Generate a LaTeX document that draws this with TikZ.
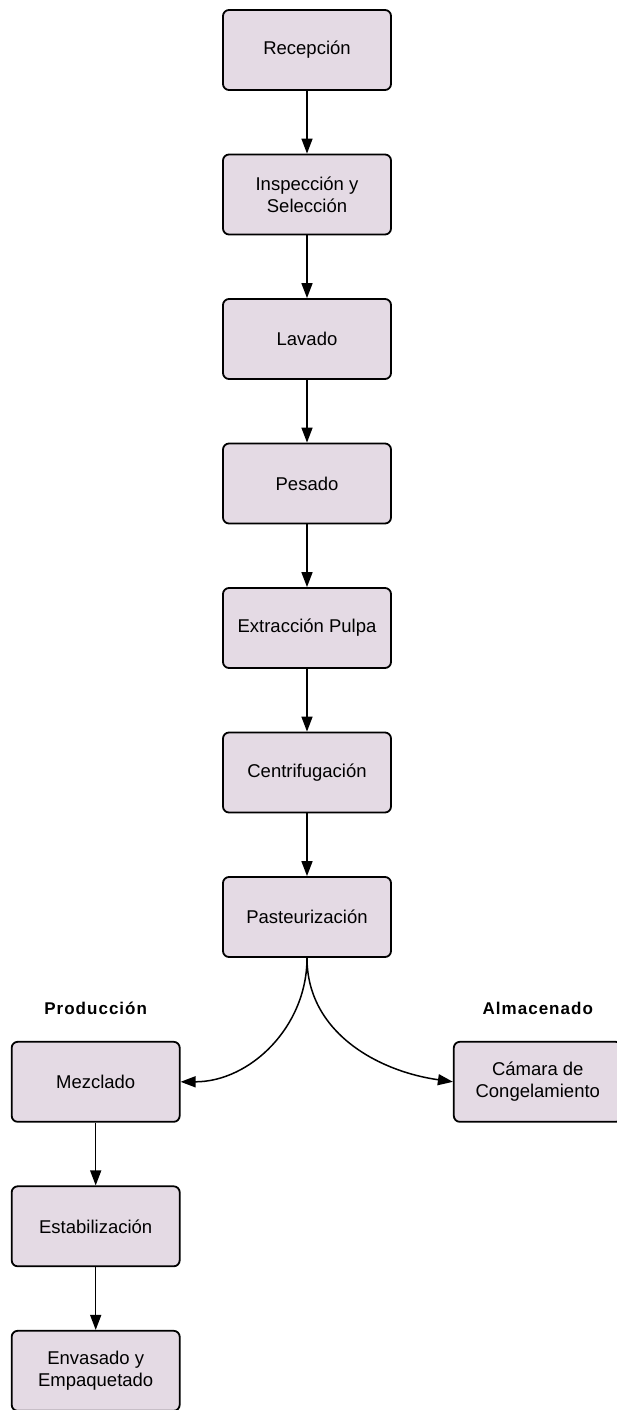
\documentclass[tikz,border=0pt]{standalone}
\usepackage{fontspec}
\setmainfont{Liberation Sans}
\newfontfamily\branchfont{Liberation Sans}[LetterSpace=6]
\usetikzlibrary{positioning, arrows.meta}
\definecolor{boxfill}{RGB}{228,218,228}

\begin{document}
\begin{tikzpicture}[
		x=1pt, y=1pt,
		node distance=62.7pt,
		box/.style={draw, rectangle, rounded corners=6pt, align=center, line width=1.8pt, fill=boxfill, minimum width=168pt, minimum height=80pt, inner sep=4pt, font=\fontsize{18.5}{22}\selectfont},
		arrow/.style={-{Triangle[length=15pt, width=11pt]}, line width=1.5pt},
		branch/.style={font=\branchfont\fontsize{17}{20}\selectfont\bfseries, inner sep=0pt}
		]
		
		\useasboundingbox (0,0) rectangle (616,-1410);
		
		% Main line
		\node[box] (rec) at (307,-50) {Recepción};
		\node[box, below=of rec] (insp) {Inspección y \\ Selección};
		\node[box, below=of insp] (lav) {Lavado};
		\node[box, below=of lav] (pes) {Pesado};
		\node[box, below=of pes] (ext) {Extracción Pulpa};
		\node[box, below=of ext] (cent) {Centrifugación};
		\node[box, below=of cent] (past) {Pasteurización};
		
		% Branches
		\node[box, below left=83pt and 41.5pt of past] (mezc) {Mezclado};
		\node[box, below=of mezc] (estab) {Estabilización};
		\node[box, below=of estab] (envas) {Envasado y \\ Empaquetado};
		\node[box, below right=83pt and 61pt of past] (cam) {Cámara de \\ Congelamiento};
		
		\node[branch, above=26pt of mezc] (prod) {Producción};
		\node[branch, above=26pt of cam] (alm) {Almacenado};
		
		% Arrows
		\draw[arrow] (rec) -- (insp);
		\draw[arrow] (insp) -- (lav);
		\draw[arrow] (lav) -- (pes);
		\draw[arrow] (pes) -- (ext);
		\draw[arrow] (ext) -- (cent);
		\draw[arrow] (cent) -- (past);
		\draw[arrow] (past.south) to[out=-90, in=0] (mezc.east);
		\draw[arrow] (past.south) to[out=-90, in=172] (cam.west);
		\draw[arrow] (mezc) -- (estab);
		\draw[arrow] (estab) -- (envas);
		
	\end{tikzpicture}
\end{document}
